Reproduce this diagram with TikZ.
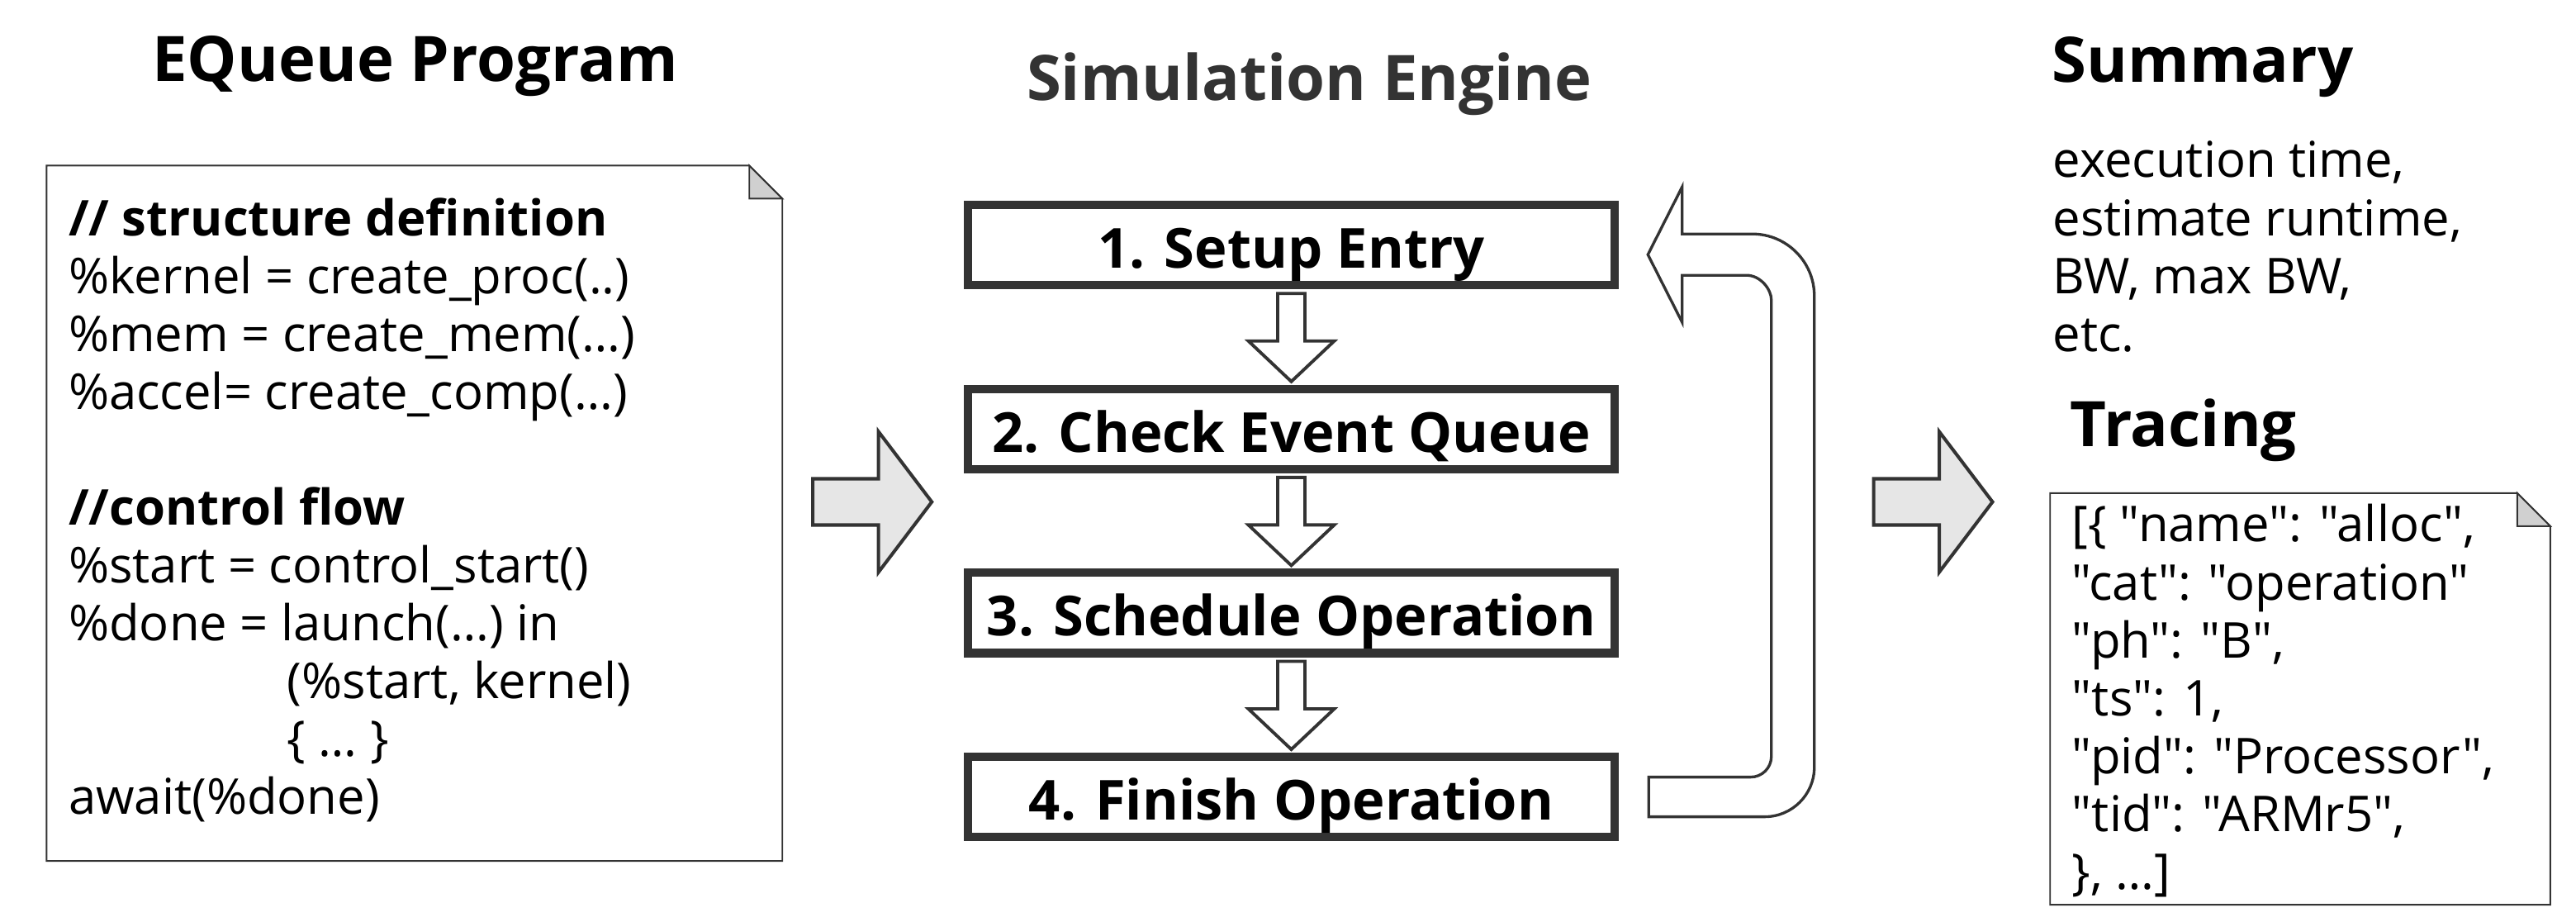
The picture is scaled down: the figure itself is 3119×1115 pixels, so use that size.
\documentclass[tikz,border=0pt]{standalone}
\usepackage{fontspec}
\setmainfont{Open Sans}[Ligatures=TeXOff]
\usepackage{tikz}
\usetikzlibrary{positioning,calc}
\definecolor{ink}{HTML}{333333}
\definecolor{shade1}{HTML}{E6E6E6}
\definecolor{fold1}{HTML}{D0D0D0}

\begin{document}
\begin{tikzpicture}[
    x=0.01cm, y=-0.01cm,
    title/.style={font=\bfseries\fontsize{21.6}{26}\selectfont, inner sep=0},
    stage/.style={draw=ink, line width=1mm, minimum width=7.83cm,
                  minimum height=0.97cm, inner sep=0,
                  text height=0.62cm, text depth=0.06cm,
                  font=\bfseries\fontsize{19}{22}\selectfont},
    sheet/.style={inner sep=0, outer sep=0},
    txt/.style={font=\fontsize{17}{19.92}\selectfont, align=left, inner sep=0},
    notepen/.style={draw=ink, line width=0.55pt},
    flow/.style={draw=ink, line width=1.1pt, fill=white},
    bigarrow/.style={draw=ink, line width=1.15pt, fill=shade1},
]
\path[use as bounding box, fill=white] (0,0) rectangle (3119,1115);

% program listing
\node[title, anchor=base] (progtitle) at (502.5,98.5) {EQueue Program};
\node[sheet, minimum width=8.903cm, minimum height=8.413cm] (prog) at (501.8,621.3) {};
\node[sheet, minimum width=6.052cm, minimum height=4.98cm] (trace) at (2785,846) {};
\foreach \n in {prog,trace} {
  \draw[notepen, fill=white] (\n.north west) -- ($(\n.north east)+(-40,0)$)
      -- ($(\n.north east)+(0,40)$) -- (\n.south east) -- (\n.south west) -- cycle;
  \draw[notepen, fill=fold1] ($(\n.north east)+(-40,0)$) -- ($(\n.north east)+(-40,40)$)
      -- ($(\n.north east)+(0,40)$) -- cycle;
}
\node[txt, anchor=north west] (progcode) at ($(prog.north west)+(26,38.3)$)
    {\textbf{// structure definition}\\
     \%kernel = create\_proc(..)\\
     \%mem = create\_mem(…)\\
     \%accel= create\_comp(…)\\[0.7cm]
     \textbf{//control flow}\\
     \%start = control\_start()\\
     \%done = launch(…) in\\
     \hspace*{2.646cm}(\%start, kernel)\\
     \hspace*{2.646cm}\{ … \}\\
     await(\%done)};

% engine
\node[title, text=ink, anchor=base] (engtitle) at (1585.5,121.5) {Simulation Engine};
\node[stage] (s1) at (1563.5,296.7) {1. Setup Entry};
\node[stage, below=1.155cm of s1] (s2) {2. Check Event Queue};
\node[stage, below=1.155cm of s2] (s3) {3. Schedule Operation};
\node[stage, below=1.155cm of s3] (s4) {4. Finish Operation};

\foreach \a/\b in {s1/s2,s2/s3,s3/s4}
  \draw[flow] ($(\a.south)+(-16.5,5)$) -- ($(\a.south)+(16.5,5)$)
      -- ($(\a.south)+(16.5,62.5)$) -- ($(\a.south)+(52,62.5)$)
      -- ($(\b.north)+(0,-4)$) -- ($(\a.south)+(-52,62.5)$)
      -- ($(\a.south)+(-16.5,62.5)$) -- cycle;

% loop back from 4 to 1
\coordinate (lpB) at ($(s4.east)+(36,0)$);
\coordinate (lpT) at ($(s1.east)+(35,11.5)$);
\draw[flow, line width=0.95pt]
    ($(lpB)+(0,-24)$) -- ($(lpB)+(123.5,-24)$)
    .. controls ($(lpB)+(137.3,-24)$) and ($(lpB)+(148.5,-35.2)$) .. ($(lpB)+(148.5,-49)$)
    -- ($(lpT)+(149.5,55)$)
    .. controls ($(lpT)+(149.5,41.6)$) and ($(lpT)+(135.9,25)$) .. ($(lpT)+(119.5,25)$)
    -- ($(lpT)+(41.5,25)$) -- ($(lpT)+(41.5,82)$) -- (lpT)
    -- ($(lpT)+(41.5,-82)$) -- ($(lpT)+(41.5,-25)$) -- ($(lpT)+(126.5,-25)$)
    .. controls ($(lpT)+(167.9,-25)$) and ($(lpT)+(201.5,8.6)$) .. ($(lpT)+(201.5,50)$)
    -- ($(lpB)+(200.5,-36)$)
    .. controls ($(lpB)+(200.5,-2.9)$) and ($(lpB)+(173.6,24)$) .. ($(lpB)+(140.5,24)$)
    -- ($(lpB)+(0,24)$) -- cycle;

% big input/output arrows
\coordinate (inL) at ($(prog.east)+(37,-13.8)$);
\coordinate (inR) at (2268.5,607.5);
\foreach \t in {inL,inR}
  \draw[bigarrow] ($(\t)+(0,-28)$) -- ($(\t)+(79.5,-28)$) -- ($(\t)+(79.5,-85)$)
      -- ($(\t)+(144,0)$) -- ($(\t)+(79.5,85)$) -- ($(\t)+(79.5,28)$)
      -- ($(\t)+(0,28)$) -- cycle;

% results
\node[title, anchor=base west] (sumtitle) at (2484,99.3) {Summary};
\node[txt, anchor=north west] (sumtxt) at (2485,170.4)
    {execution time,\\estimate runtime,\\BW, max BW,\\etc.};
\node[title, anchor=base west] (trtitle) at (2506,540.5) {Tracing};
\node[txt, anchor=north west] (trtxt) at ($(trace.north west)+(26,13)$)
    {[\{ "name": "alloc",\\
     "cat": "operation"\\
     "ph": "B",\\
     "ts": 1,\\
     "pid": "Processor",\\
     "tid": "ARMr5",\\
     \}, …]};
\end{tikzpicture}
\end{document}
